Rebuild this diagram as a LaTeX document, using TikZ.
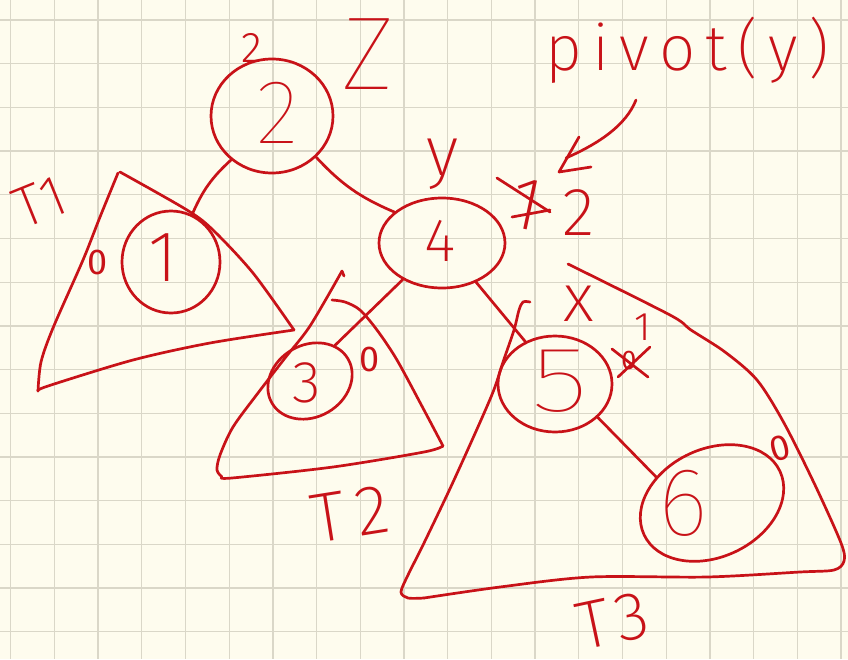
\documentclass[tikz,border=0pt]{standalone}
\usepackage{fontspec}
\usetikzlibrary{shapes.geometric,calc}
\IfFontExistsTF{Fira Sans Thin}{\newfontfamily\hfA{Fira Sans Thin}}{\newfontfamily\hfA{Fira Sans}}
\IfFontExistsTF{Fira Sans ExtraLight}{\newfontfamily\hfB{Fira Sans ExtraLight}}{\newfontfamily\hfB{Fira Sans}}
\IfFontExistsTF{Fira Sans Light}{\newfontfamily\hfC{Fira Sans Light}}{\newfontfamily\hfC{Fira Sans}}
\newfontfamily\hfD{Fira Sans}
\newcommand\hsA[1]{\hfA\fontsize{#1}{#1}\selectfont}
\newcommand\hsB[1]{\hfB\fontsize{#1}{#1}\selectfont}
\newcommand\hsC[1]{\hfC\fontsize{#1}{#1}\selectfont}
\newcommand\hsD[1]{\hfD\fontsize{#1}{#1}\selectfont}
\definecolor{inkc}{RGB}{200,18,24}
\definecolor{paper}{RGB}{254,252,238}
\definecolor{gridc}{RGB}{218,215,200}
\begin{document}
\begin{tikzpicture}[x=1pt,y=-1pt,
  ink/.style={draw=inkc, line width=2.7pt, line cap=round, line join=round},
  oval/.style={ellipse, ink, inner sep=0pt},
  hw/.style={text=inkc, inner sep=0pt},
  gridline/.style={draw=gridc, line width=1.3pt}]
\useasboundingbox (0,0) rectangle (848,659);
\fill[paper] (0,0) rectangle (848,659);
\foreach \i in {0,...,19} \draw[gridline] ({10.7+43.7*\i},0) -- ({10.7+43.7*\i},659);
\foreach \j in {0,...,14} \draw[gridline] (0,{20+43.7*\j}) -- (848,{20+43.7*\j});

% subtrees
\draw[ink] plot[smooth,tension=.5] coordinates {(118,173) (100,217) (83,260) (53,328) (41,362) (38,391)};
\draw[ink] plot[smooth,tension=.5] coordinates {(38,391) (48,386) (133,360) (210,343) (294,330)};
\draw[ink] plot[smooth,tension=.5] coordinates {(294,330) (253,273) (213,230) (187,210) (120,172)};

\draw[ink] (344,276) -- (342,271);
\draw[ink] plot[smooth,tension=.5] coordinates {(342,271) (310,326) (285,358) (258,393) (233,427) (220,455) (217,470) (222,477)};
\draw[ink] plot[smooth,tension=.5] coordinates {(222,477) (232,478) (333,467) (424,452) (443,446)};
\draw[ink] plot[smooth,tension=.5] coordinates {(332,300) (345,302) (360,310) (377,330) (397,360) (424,410) (443,446)};

\draw[ink] plot[smooth,tension=.5] coordinates {(530,302) (523,302) (519,310) (514,330) (503,362) (491,397) (454,480) (424,543) (408,575) (401,592) (408,598) (424,598)};
\draw[ink] plot[smooth,tension=.5] coordinates {(424,598) (500,587) (591,577) (707,577) (800,572) (834,570) (844,561) (841,543) (815,485) (784,423) (757,380) (725,352) (691,330) (670,315) (568,264)};

% nodes
\node[oval, minimum width=122pt, minimum height=114pt] (n2) at (272,116) {};
\node[oval, minimum width=98pt, minimum height=102pt] (n1) at (171,262) {};
\node[oval, minimum width=126pt, minimum height=90pt] (n4) at (442,243) {};
\node[oval, minimum width=88pt, minimum height=72pt, rotate=30] (n3) at (310,381) {};
\node[oval, minimum width=114pt, minimum height=96pt] (n5) at (555,384) {};
\node[oval, minimum width=150pt, minimum height=108pt, rotate=25] (n6) at (712,503) {};

% connectors
\draw[ink] (n2.227) to[bend right=12] (n1.66);
\draw[ink] (n2.317) to[bend right=12] (n4.147);
\draw[ink] (n4.223) -- (n3.25);
\draw[ink] (n4.311) -- (n5.125);
\draw[ink] (n5.322) -- (n6.130);

% texts
\node[hw, font=\hsC{43}] (s2) at (252,48) {2};
\node[hw, font=\hsA{104}] (lz) at (368,54) {Z};
\node[hw, font=\hsA{91}] (d2) at (278,113) {2};
\node[hw, font=\hsB{72}] (d1) at (163,258) {1};
\node[hw, font=\hsD{36}] (b1) at (98,262) {0};
\node[hw, font=\hsB{58}, rotate=22] (t1) at (40,202) {T1};
\node[hw, font=\hsB{70}, anchor=base] (ly) at (443,175) {y};
\node[hw, font=\hsB{61}] (d4) at (440,241) {4};
\node[hw, font=\hsB{75}, rotate=-12] (c1) at (527,204) {1};
\node[hw, font=\hsB{68}] (b4) at (579,213) {2};
\node[hw, font={\hsB{64}\addfontfeature{LetterSpace=16}}, anchor=base west] (pv) at (545,70) {pivot(y)};
\node[hw, font=\hsB{59}] (d3) at (307,383) {3};
\node[hw, font=\hsD{36}] (b3) at (370,359) {0};
\node[hw, font=\hsB{70}, rotate=9] (t2) at (350,514) {T\hspace{10pt}2};
\node[hw, font=\hsB{68}] (lx) at (579,304) {x};
\node[hw, font=\hsA{93}, xscale=1.3] (d5) at (560,381) {5};
\node[hw, font=\hsC{40}] (b5a) at (643,327) {1};
\node[hw, font=\hsD{27}] (b5b) at (629,360) {0};
\node[hw, font=\hsA{97}] (d6) at (683,503) {6};
\node[hw, font=\hsD{36}, rotate=15] (b6) at (780,448) {0};
\node[hw, font=\hsB{68}, rotate=12] (t3) at (613,621) {T\hspace{6pt}3};

% strike-outs
\draw[ink] (497,178) -- (550,212);
\draw[ink] (512,217) -- (550,210);
\draw[ink] (612,349) -- (648,377);
\draw[ink] (650,347) -- (618,377);

% pivot arrow
\coordinate (pvA) at (636,100);
\coordinate (pvB) at (559,172);
\draw[ink] (pvA) .. controls (626,125) and (600,143) .. (566,158);
\draw[ink] ($(pvB)+(20,-35)$) -- (pvB) -- ($(pvB)+(32,-5)$);
\end{tikzpicture}
\end{document}
